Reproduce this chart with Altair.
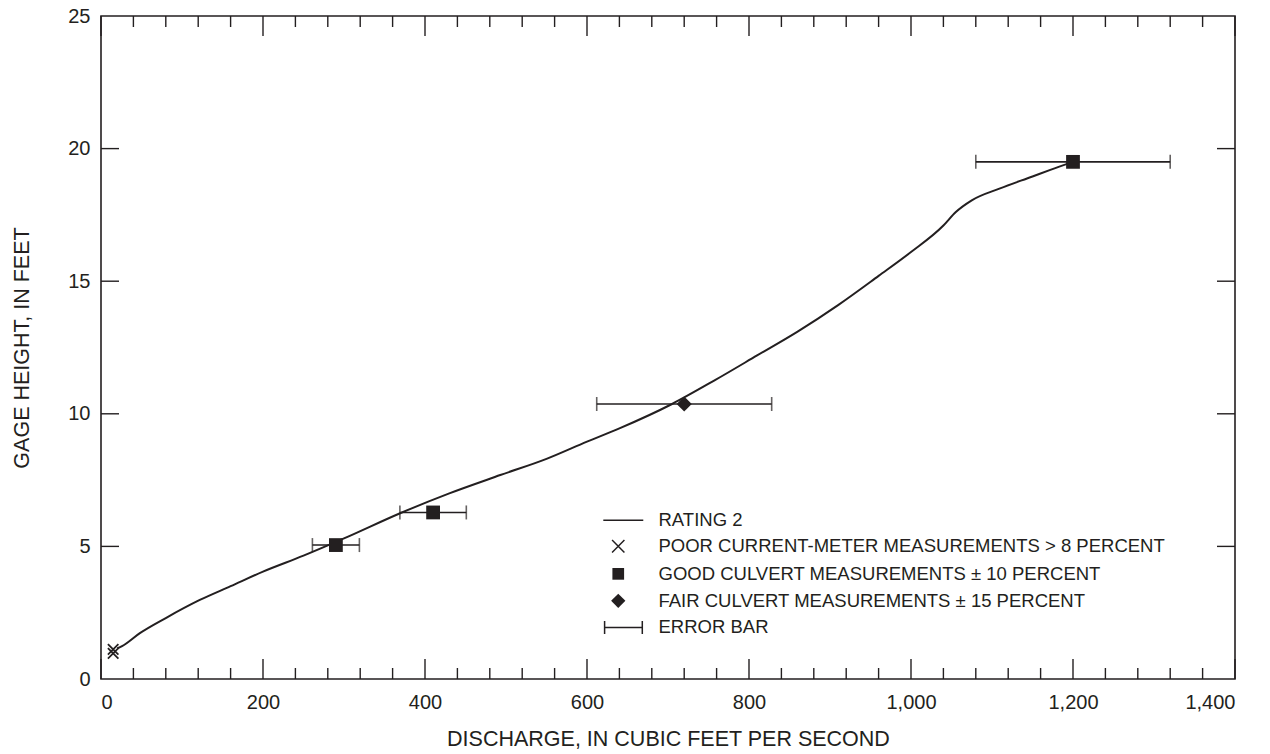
import altair as alt
import pandas as pd

INK = "#231f20"
FONT = "Liberation Sans"

# Rating curve (discharge, gage height)
rating_q = [20, 26, 48, 80, 122, 160, 200, 250, 300, 370, 430, 493, 550, 600, 640,
            705, 758, 810, 860, 910, 960, 1000, 1040, 1055, 1075, 1110, 1150, 1172, 1200]
rating_h = [1.15, 1.24, 1.73, 2.3, 2.98, 3.5, 4.05, 4.65, 5.3, 6.26, 7.0, 7.69, 8.3, 8.95, 9.45,
            10.37, 11.27, 12.2, 13.1, 14.1, 15.2, 16.1, 17.1, 17.6, 18.05, 18.5, 18.95, 19.2, 19.5]

# Measurements
poor_q = [15, 15]
poor_h = [0.97, 1.12]
good_q = [290, 410, 1200]
good_h = [5.05, 6.28, 19.5]
good_lo = [261, 369, 1080]
good_hi = [319, 451, 1320]
fair_q = [720]
fair_h = [10.37]
fair_lo = [612]
fair_hi = [828]

# Axis ticks
x_major = [0, 200, 400, 600, 800, 1000, 1200, 1400]
x_minor = [v for v in range(0, 1401, 40) if v % 200 != 0]
y_major = [0, 5, 10, 15, 20, 25]
y_inner = [5, 10, 15, 20]

# Legend entries (three groups: stroked, filled, stroked)
leg_a_labels = ["RATING 2", "POOR CURRENT-METER MEASUREMENTS > 8 PERCENT"]
leg_a_shapes = ["M-2.3,0L3.85,0", "M-0.95,-0.95L0.95,0.95M-0.95,0.95L0.95,-0.95"]
leg_b_labels = ["GOOD CULVERT MEASUREMENTS \u00b1 10 PERCENT",
                "FAIR CULVERT MEASUREMENTS \u00b1 15 PERCENT"]
leg_b_shapes = ["M-0.9,-0.9L0.9,-0.9L0.9,0.9L-0.9,0.9Z", "M-1.1,0L0,-1.1L1.1,0L0,1.1Z"]
leg_c_labels = ["ERROR BAR"]
leg_c_shapes = ["M-2.1,-1L-2.1,1M-2.1,0L3.7,0M3.7,-1L3.7,1"]

W, H = 1134, 663

rating = pd.DataFrame({"q": rating_q, "h": rating_h})
poor = pd.DataFrame({"q": poor_q, "h": poor_h})
good = pd.DataFrame({"q": good_q, "h": good_h})
fair = pd.DataFrame({"q": fair_q, "h": fair_h})
bars = pd.DataFrame({"q": good_q + fair_q, "h": good_h + fair_h,
                     "lo": good_lo + fair_lo, "hi": good_hi + fair_hi})
xmaj = pd.DataFrame({"v": x_major})
xmin = pd.DataFrame({"v": x_minor})
ymaj = pd.DataFrame({"v": y_inner})

xs = alt.Scale(domain=[0, 1400], nice=False, zero=False)
ys = alt.Scale(domain=[0, 25], nice=False, zero=False)

x_axis = alt.Axis(values=x_major, format=",.0f", ticks=False, tickSize=0, domain=False, grid=False,
                  labelFont=FONT, labelFontSize=20, labelColor=INK, labelPadding=13,
                  title="DISCHARGE, IN CUBIC FEET PER SECOND", titleFont=FONT,
                  titleFontSize=21.5, titleFontWeight="normal", titleColor=INK, titlePadding=16)
y_axis = alt.Axis(values=y_major, ticks=False, tickSize=0, domain=False, grid=False,
                  labelFont=FONT, labelFontSize=20, labelColor=INK, labelPadding=11,
                  title="GAGE HEIGHT, IN FEET", titleFont=FONT,
                  titleFontSize=21.5, titleFontWeight="normal", titleColor=INK, titlePadding=34)

line = alt.Chart(rating).mark_line(color=INK, strokeWidth=2, interpolate="monotone").encode(
    x=alt.X("q:Q", scale=xs, axis=x_axis),
    y=alt.Y("h:Q", scale=ys, axis=y_axis),
)

bar_rule = alt.Chart(bars).mark_rule(color=INK, strokeWidth=1.6).encode(
    x=alt.X("lo:Q", scale=xs), x2="hi:Q", y=alt.Y("h:Q", scale=ys))
cap_lo = alt.Chart(bars).mark_tick(color=INK, thickness=1.6, size=14, orient="vertical").encode(
    x=alt.X("lo:Q", scale=xs), y=alt.Y("h:Q", scale=ys))
cap_hi = alt.Chart(bars).mark_tick(color=INK, thickness=1.6, size=14, orient="vertical").encode(
    x=alt.X("hi:Q", scale=xs), y=alt.Y("h:Q", scale=ys))

good_pts = alt.Chart(good).mark_point(shape="square", filled=True, size=190, color=INK, opacity=1).encode(
    x=alt.X("q:Q", scale=xs), y=alt.Y("h:Q", scale=ys))
fair_pts = alt.Chart(fair).mark_point(shape="diamond", filled=True, size=230, color=INK, opacity=1).encode(
    x=alt.X("q:Q", scale=xs), y=alt.Y("h:Q", scale=ys))
poor_pts = alt.Chart(poor).mark_point(shape="M-1,-1L1,1M-1,1L1,-1", filled=False, size=110,
                                      color=INK, strokeWidth=1.8, opacity=1).encode(
    x=alt.X("q:Q", scale=xs), y=alt.Y("h:Q", scale=ys))

# inward ticks
tick_style = dict(color=INK, strokeWidth=1.4)
bot_major = alt.Chart(xmaj).mark_rule(**tick_style).encode(
    x=alt.X("v:Q", scale=xs), y=alt.value(H), y2=alt.value(H - 20))
bot_minor = alt.Chart(xmin).mark_rule(**tick_style).encode(
    x=alt.X("v:Q", scale=xs), y=alt.value(H), y2=alt.value(H - 11))
top_major = alt.Chart(xmaj).mark_rule(**tick_style).encode(
    x=alt.X("v:Q", scale=xs), y=alt.value(0), y2=alt.value(20))
top_minor = alt.Chart(xmin).mark_rule(**tick_style).encode(
    x=alt.X("v:Q", scale=xs), y=alt.value(0), y2=alt.value(11))
left_t = alt.Chart(ymaj).mark_rule(**tick_style).encode(
    y=alt.Y("v:Q", scale=ys), x=alt.value(0), x2=alt.value(18))
right_t = alt.Chart(ymaj).mark_rule(**tick_style).encode(
    y=alt.Y("v:Q", scale=ys), x=alt.value(W), x2=alt.value(W - 18))

LEG_X = 508
LEG_Y = 495
ROW = 26.8


def legend_group(labels, shapes, filled, y, name):
    df = pd.DataFrame({name: labels})
    return alt.Chart(df).mark_point(filled=filled, color=INK, strokeWidth=1.5, opacity=0).encode(
        x=alt.value(0), y=alt.value(0),
        shape=alt.Shape(f"{name}:N",
                        scale=alt.Scale(domain=labels, range=shapes),
                        legend=alt.Legend(title=None, orient="none", legendX=LEG_X, legendY=y,
                                          symbolSize=169, symbolStrokeWidth=1.5,
                                          symbolFillColor=INK, symbolStrokeColor=INK,
                                          symbolOpacity=1, labelFont=FONT, labelFontSize=18.5,
                                          labelColor=INK, labelOffset=31, rowPadding=7,
                                          padding=0, labelLimit=0)),
    )


leg_a = legend_group(leg_a_labels, leg_a_shapes, False, LEG_Y, "la")
leg_b = legend_group(leg_b_labels, leg_b_shapes, True, LEG_Y + 2 * ROW, "lb")
leg_c = legend_group(leg_c_labels, leg_c_shapes, False, LEG_Y + 4 * ROW, "lc")

chart = alt.layer(
    line, bar_rule, cap_lo, cap_hi, good_pts, fair_pts, poor_pts,
    bot_major, bot_minor, top_major, top_minor, left_t, right_t, leg_a, leg_b, leg_c,
).resolve_scale(shape="independent").properties(
    width=W, height=H,
    autosize=alt.AutoSizeParams(type="none"),
    padding={"left": 101, "top": 16, "right": 35, "bottom": 75},
    background="white",
).configure_view(stroke=INK, strokeWidth=1.6)

chart.save("out.html", embed_options={"renderer": "svg", "actions": False})
